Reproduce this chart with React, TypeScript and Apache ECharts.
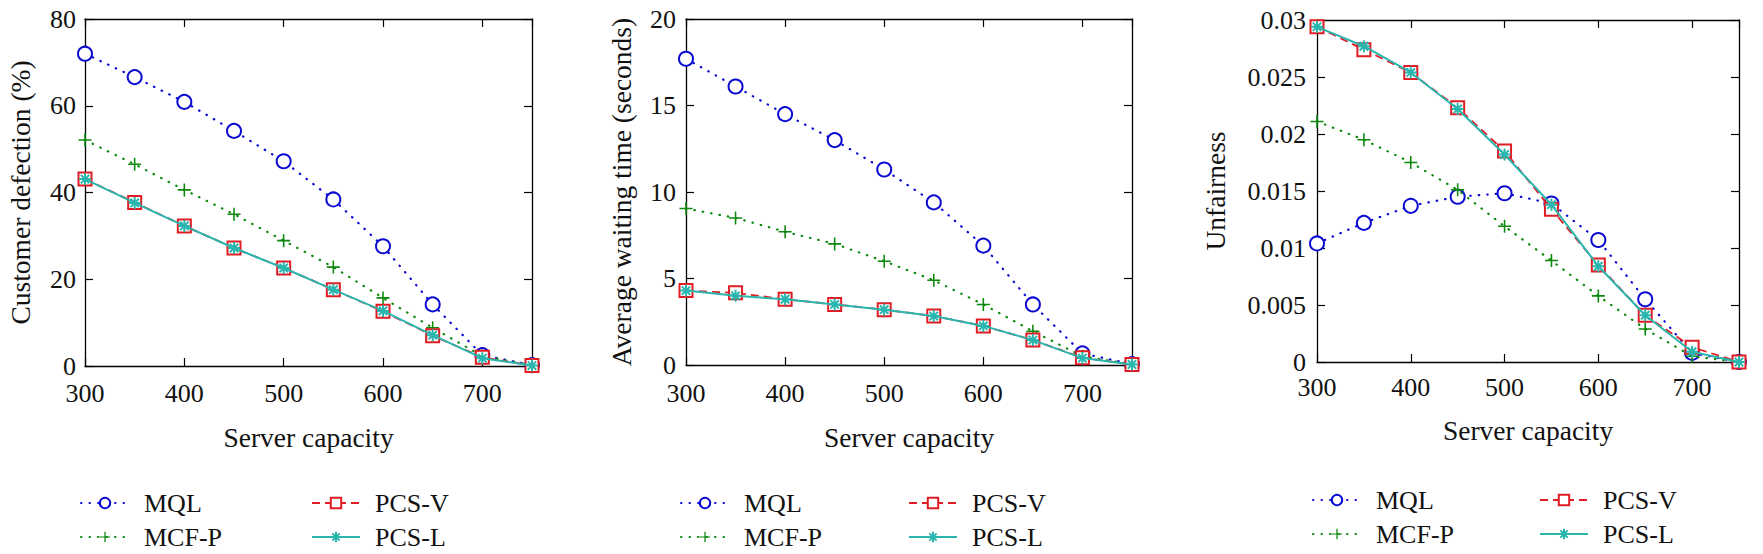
import React, { useEffect, useRef } from "react";
import * as echarts from "echarts";

const capacity = [300, 350, 400, 450, 500, 550, 600, 650, 700, 750];
const xTicks = [300, 400, 500, 600, 700];

// Panel 1: Customer defection (%)
const defMQL = [72.0, 66.6, 60.9, 54.2, 47.2, 38.4, 27.6, 14.2, 2.5, 0.2];
const defMCFP = [52.1, 46.5, 40.6, 35.0, 28.9, 22.8, 15.7, 8.8, 2.3, 0.2];
const defPCSV = [43.1, 37.7, 32.3, 27.2, 22.6, 17.6, 12.6, 7.0, 2.0, 0.1];
const defPCSL = [43.1, 37.6, 32.3, 27.2, 22.6, 17.6, 12.7, 7.1, 1.8, 0.1];

// Panel 2: Average waiting time (seconds)
const waitMQL = [17.7, 16.1, 14.5, 13.0, 11.3, 9.4, 6.9, 3.5, 0.67, 0.05];
const waitMCFP = [9.05, 8.5, 7.7, 7.0, 6.0, 4.9, 3.5, 1.95, 0.5, 0.05];
const waitPCSV = [4.3, 4.17, 3.8, 3.5, 3.2, 2.83, 2.26, 1.44, 0.42, 0.03];
const waitPCSL = [4.3, 4.0, 3.8, 3.5, 3.2, 2.83, 2.26, 1.44, 0.4, 0.03];

// Panel 3: Unfairness
const unfMQL = [0.0104, 0.0122, 0.0137, 0.0145, 0.0148, 0.0139, 0.0107, 0.0055, 0.0008, 0.0];
const unfMCFP = [0.0211, 0.0195, 0.0175, 0.0151, 0.0119, 0.0089, 0.0058, 0.0029, 0.0005, 0.0];
const unfPCSV = [0.0294, 0.0274, 0.0254, 0.0223, 0.0185, 0.0134, 0.0085, 0.0041, 0.0013, 0.0];
const unfPCSL = [0.0294, 0.0277, 0.0254, 0.0222, 0.0182, 0.0138, 0.0084, 0.0041, 0.0009, 0.0];

const seriesNames = ["MQL", "MCF-P", "PCS-V", "PCS-L"];

const FONT = "'Liberation Serif', 'Times New Roman', serif";
const BLUE = "#0a0ad2";
const GREEN = "#0c880c";
const RED = "#e01c24";
const TEAL = "#2ab5ae";

const PLUS = "path://M-1.2,-10L1.2,-10L1.2,-1.2L10,-1.2L10,1.2L1.2,1.2L1.2,10L-1.2,10L-1.2,1.2L-10,1.2L-10,-1.2L-1.2,-1.2Z";
const STAR = "path://M0,-10L0,10M-10,0L10,0M-7,-7L7,7M-7,7L7,-7";

const panels = [
  {
    title: "Customer defection (%)",
    yMax: 80,
    yInterval: 20,
    grid: { left: 85, top: 19, width: 447, height: 347 },
    yNameGap: 51,
    yLabelMargin: 9,
    xNameGap: 57,
    xLabelMargin: 14,
    legendX: [80, 311],
    legendY: [490, 524],
    data: [defMQL, defMCFP, defPCSV, defPCSL],
  },
  {
    title: "Average waiting time (seconds)",
    yMax: 20,
    yInterval: 5,
    grid: { left: 686, top: 19, width: 446, height: 346 },
    yNameGap: 51,
    yLabelMargin: 10,
    xNameGap: 58,
    xLabelMargin: 15,
    legendX: [680, 908],
    legendY: [490, 524],
    data: [waitMQL, waitMCFP, waitPCSV, waitPCSL],
  },
  {
    title: "Unfairness",
    yMax: 0.03,
    yInterval: 0.005,
    grid: { left: 1317, top: 20, width: 422, height: 342 },
    yNameGap: 88,
    yLabelMargin: 11,
    xNameGap: 54,
    xLabelMargin: 12,
    legendX: [1312, 1539],
    legendY: [487, 521],
    data: [unfMQL, unfMCFP, unfPCSV, unfPCSL],
  },
];

function buildOption() {
  const grid: any[] = [];
  const xAxis: any[] = [];
  const yAxis: any[] = [];
  const series: any[] = [];
  const legend: any[] = [];

  panels.forEach((p, i) => {
    grid.push({ ...p.grid, containLabel: false });
    const axisLine = { show: true, onZero: false, lineStyle: { color: "#000", width: 1.3 } };
    const tick = { show: true, inside: true, length: 8, lineStyle: { color: "#000", width: 1.2 } };
    const xBase = { type: "value", gridIndex: i, min: 300, max: 750, interval: 100, splitLine: { show: false }, axisLine, axisTick: tick };
    xAxis.push({
      ...xBase,
      position: "bottom",
      name: "Server capacity",
      nameLocation: "middle",
      nameGap: p.xNameGap,
      nameTextStyle: { fontFamily: FONT, fontSize: 27.5, color: "#111" },
      axisLabel: {
        show: true,
        margin: p.xLabelMargin,
        fontFamily: FONT,
        fontSize: 26,
        color: "#111",
        formatter: (v: number) => (xTicks.indexOf(v) >= 0 ? String(v) : ""),
      },
    });
    xAxis.push({ ...xBase, position: "top", axisLabel: { show: false } });
    const yBase = { type: "value", gridIndex: i, min: 0, max: p.yMax, interval: p.yInterval, splitLine: { show: false }, axisLine, axisTick: tick };
    yAxis.push({
      ...yBase,
      position: "left",
      name: p.title,
      nameLocation: "middle",
      nameGap: p.yNameGap,
      nameRotate: 90,
      nameTextStyle: { fontFamily: FONT, fontSize: 27.5, color: "#111" },
      axisLabel: {
        show: true,
        margin: p.yLabelMargin,
        fontFamily: FONT,
        fontSize: 26,
        color: "#111",
        formatter: (v: number) => String(+v.toFixed(4)),
      },
    });
    yAxis.push({ ...yBase, position: "right", axisLabel: { show: false } });

    const styles = [
      { color: BLUE, symbol: "emptyCircle", size: 14, line: { type: [0.5, 8], width: 2.2, cap: "round" }, border: 1.8 },
      { color: GREEN, symbol: PLUS, size: 13, line: { type: [0.5, 8], width: 2.2, cap: "round" }, border: 0 },
      { color: RED, symbol: "emptyRect", size: 13, line: { type: [8, 5], width: 1.8, cap: "butt" }, border: 1.8 },
      { color: TEAL, symbol: STAR, size: 12, line: { type: "solid", width: 2, cap: "butt" }, border: 2 },
    ];
    styles.forEach((s, k) => {
      series.push({
        type: "line",
        name: seriesNames[k],
        xAxisIndex: i * 2,
        yAxisIndex: i * 2,
        data: capacity.map((c, j) => [c, p.data[k][j]]),
        symbol: s.symbol,
        symbolSize: s.size,
        showAllSymbol: true,
        z: 2 + k,
        lineStyle: { color: s.color, width: s.line.width, type: s.line.type, cap: s.line.cap },
        itemStyle: {
          color: s.color,
          borderColor: s.color,
          borderWidth: s.border,
        },
      });
    });

    const legendCommon = {
      orient: "horizontal",
      padding: 0,
      itemWidth: 48,
      itemHeight: 13,
      textStyle: { fontFamily: FONT, fontSize: 26, lineHeight: 26, color: "#111", padding: [0, 0, 0, 10] },
      selectedMode: false,
    };
    seriesNames.forEach((nm, k) => {
      legend.push({
        ...legendCommon,
        left: p.legendX[k < 2 ? 0 : 1],
        top: p.legendY[k % 2],
        data: [nm],
      });
    });
  });

  return {
    animation: false,
    backgroundColor: "#fff",
    grid,
    xAxis,
    yAxis,
    series,
    legend,
  };
}

export default function App() {
  const ref = useRef<HTMLDivElement>(null);
  useEffect(() => {
    if (!ref.current) return;
    const chart = echarts.init(ref.current, null, { renderer: "svg" });
    chart.setOption(buildOption() as any);
    return () => chart.dispose();
  }, []);
  return (
    <div
      ref={ref}
      style={{ position: "absolute", left: 0, top: 0, width: 1763, height: 554, background: "#fff" }}
    />
  );
}
